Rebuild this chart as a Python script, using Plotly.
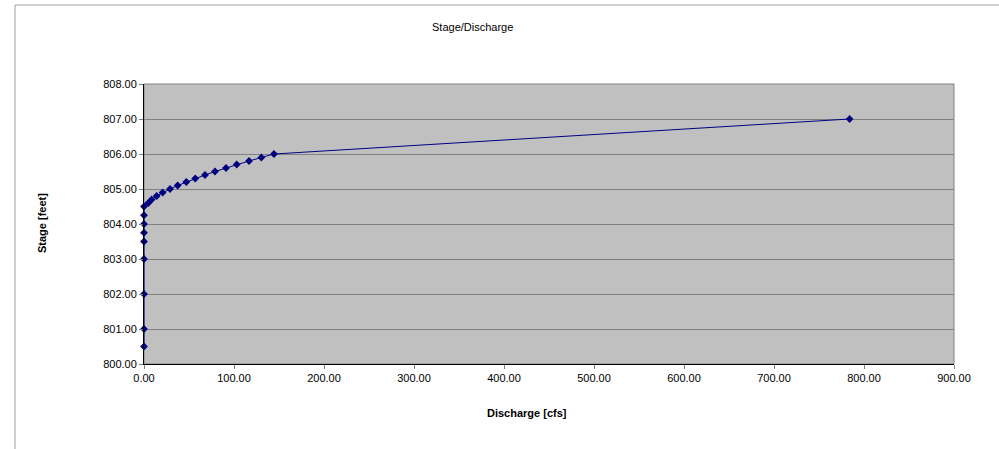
import plotly.graph_objects as go

# Data
discharge_cfs = [0, 0, 0, 0, 0, 0, 0, 0, 0,
                 4.8, 8.5, 14.1, 20.7, 28.9, 37.4, 47.0, 57.0, 67.8, 78.9,
                 91.1, 103.0, 116.7, 130.4, 144.4, 784.0]
stage_feet = [800.5, 801.0, 802.0, 803.0, 803.5, 803.75, 804.0, 804.25, 804.5,
              804.6, 804.7, 804.8, 804.9, 805.0, 805.1, 805.2, 805.3, 805.4, 805.5,
              805.6, 805.7, 805.8, 805.9, 806.0, 807.0]

x_ticks = [0, 100, 200, 300, 400, 500, 600, 700, 800, 900]
y_ticks = [800, 801, 802, 803, 804, 805, 806, 807, 808]

FONT = "Liberation Sans, Arial, sans-serif"

fig = go.Figure()
fig.add_trace(go.Scatter(
    x=discharge_cfs, y=stage_feet, mode="lines+markers",
    line=dict(color="#000080", width=1),
    marker=dict(symbol="diamond", size=6, color="#000080"),
    showlegend=False, cliponaxis=False,
))

W, H = 999, 449
L, R, T, B = 144, 45, 84, 85
pw, ph = W - L - R, H - T - B

def px(xp):
    return (xp - L) / pw

def py(yp):
    return (H - B - yp) / ph

fig.update_layout(
    width=W, height=H,
    margin=dict(l=L, r=R, t=T, b=B, autoexpand=False),
    paper_bgcolor="white", plot_bgcolor="#C0C0C0",
    font=dict(family=FONT, size=11, color="black"),
    xaxis=dict(range=[0, 900], tickvals=x_ticks,
               ticktext=[f"{v:.2f}" for v in x_ticks],
               showgrid=False, zeroline=False,
               showline=True, linecolor="black", linewidth=1,
               ticks="outside", ticklen=4, tickcolor="#808080",
               tickfont=dict(size=11), mirror=False),
    yaxis=dict(range=[800, 808], tickvals=y_ticks,
               ticktext=[f"{v:.2f}" for v in y_ticks],
               showgrid=True, gridcolor="#808080", gridwidth=1,
               zeroline=False,
               showline=True, linecolor="black", linewidth=1,
               ticks="outside", ticklen=4, tickcolor="#808080",
               tickfont=dict(size=11)),
    shapes=[
        # plot-area right/top border
        dict(type="rect", xref="paper", yref="paper", x0=0, x1=1, y0=0, y1=1,
             line=dict(color="#808080", width=1), layer="below"),
        # chart-area border
        dict(type="rect", xref="paper", yref="paper",
             x0=px(15), x1=px(1010), y0=py(460), y1=py(5),
             line=dict(color="#A0A0A0", width=1), layer="below"),
    ],
    annotations=[
        dict(text="Stage/Discharge", xref="paper", yref="paper",
             x=px(472), y=py(27), showarrow=False,
             font=dict(size=11), xanchor="center", yanchor="middle"),
        dict(text="<b>Discharge [cfs]</b>", xref="paper", yref="paper",
             x=px(527), y=py(413), showarrow=False,
             font=dict(size=11), xanchor="center", yanchor="middle"),
        dict(text="<b>Stage [feet]</b>", xref="paper", yref="paper",
             x=px(42), y=py(223), showarrow=False, textangle=-90,
             font=dict(size=11), xanchor="center", yanchor="middle"),
    ],
)

fig.write_html(
    "out.html",
    config={"displayModeBar": False},
    post_script="document.body.style.margin='0';document.body.style.overflow='hidden';",
)
